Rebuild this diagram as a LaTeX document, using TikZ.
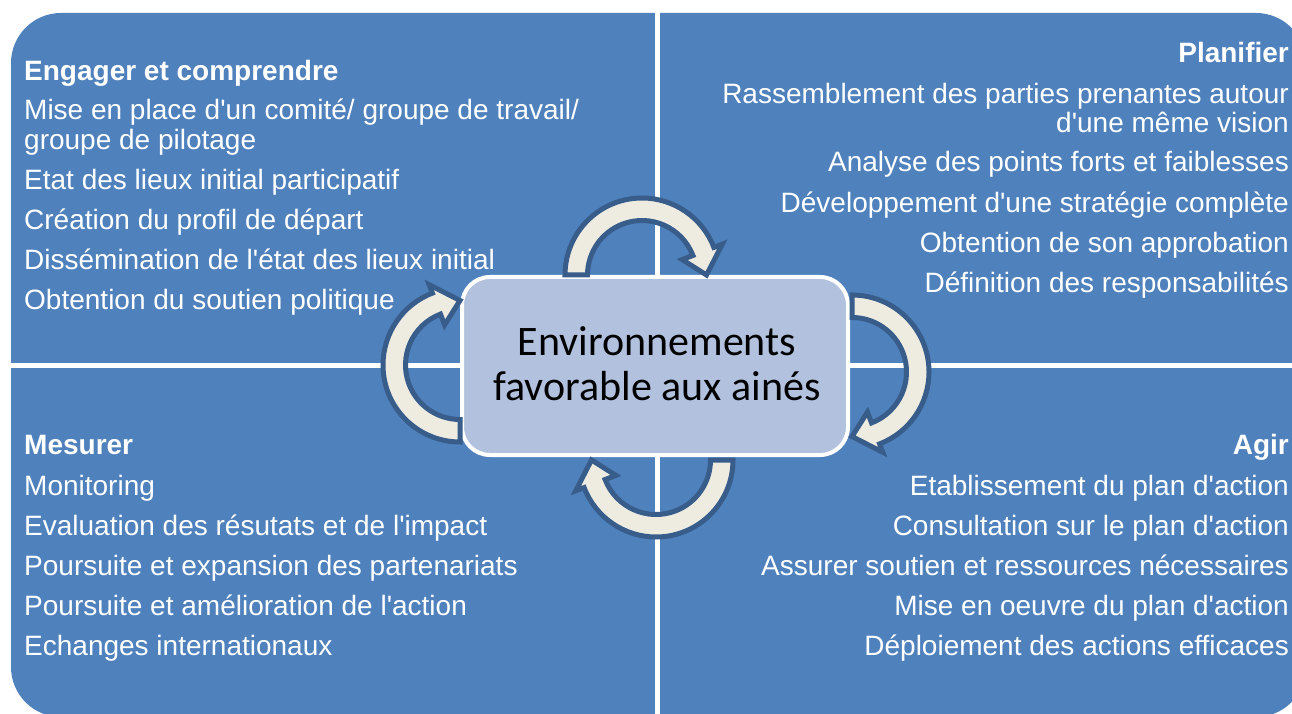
\documentclass[tikz,border=0pt]{standalone}
\usepackage{fontspec}
\setmainfont{Liberation Sans}[Ligatures=TeXOff]
\newfontfamily\calib{Carlito}
\usetikzlibrary{calc}
\definecolor{qblue}{RGB}{79,129,189}
\definecolor{boxblue}{RGB}{177,193,222}
\definecolor{acream}{RGB}{238,236,225}
\definecolor{aline}{RGB}{56,93,138}
\tikzset{
  qtext/.style={text=white, inner sep=0pt, font=\fontsize{28}{30}\selectfont},
  qhead/.style={text=white, inner sep=0pt, font=\bfseries\fontsize{28}{30}\selectfont},
  cyc/.style={fill=acream, draw=aline, line width=5pt, line join=miter},
  sep/.style={white, line width=5pt}
}
\newcommand\cycarrow[2]{%
  \draw[cyc] ($(#1)+(#2:77pt)$) arc[start angle=#2, end angle=#2-159, radius=77pt]
    -- ($(#1)+(#2-159:86pt)$) -- ($(#1)+(#2-180:64.5pt)$) -- ($(#1)+(#2-159:43pt)$)
    -- ($(#1)+(#2-159:54.5pt)$) arc[start angle=#2-159, end angle=#2, radius=54.5pt] -- cycle;}
\begin{document}
\begin{tikzpicture}[x=1pt,y=1pt]
\useasboundingbox (0,0) rectangle (1292,713);
\begin{scope}
  \clip (0,0) rectangle (1292,713);
  \fill[qblue, rounded corners=50pt] (11,-4) rectangle (1306,700);
  \coordinate (vtop) at (657,720);
  \coordinate (vbot) at (657,-10);
  \coordinate (hl) at (0,348);
  \coordinate (hr) at (1310,348);
  \draw[sep] (vbot) -- (vtop);
  \draw[sep] (hl) -- (hr);
\end{scope}

% top-left
\node[qhead, anchor=base west] (tl0) at (24,632) {Engager et comprendre};
\node[qtext, anchor=base west] (tl1) at (24,593) {Mise en place d'un comité/ groupe de travail/};
\node[qtext, anchor=base west] (tl1b) at (24,563) {groupe de pilotage};
\node[qtext, anchor=base west] (tl2) at (24,523) {Etat des lieux initial participatif};
\node[qtext, anchor=base west] (tl3) at (24,483) {Création du profil de départ};
\node[qtext, anchor=base west] (tl4) at (24,443) {Dissémination de l'état des lieux initial};
\node[qtext, anchor=base west] (tl5) at (24,403) {Obtention du soutien politique};

% top-right
\node[qhead, anchor=base east] (tr0) at (1289,650) {Planifier};
\node[qtext, anchor=base east] (tr1) at (1289,609) {Rassemblement des parties prenantes autour};
\node[qtext, anchor=base east] (tr1b) at (1289,580) {d'une même vision};
\node[qtext, anchor=base east] (tr2) at (1289,541) {Analyse des points forts et faiblesses};
\node[qtext, anchor=base east] (tr3) at (1289,500) {Développement d'une stratégie complète};
\node[qtext, anchor=base east] (tr4) at (1289,460) {Obtention de son approbation};
\node[qtext, anchor=base east] (tr5) at (1289,420) {Définition des responsabilités};

% bottom-left
\node[qhead, anchor=base west] (bl0) at (24,259) {Mesurer};
\node[qtext, anchor=base west] (bl1) at (24,218) {Monitoring};
\node[qtext, anchor=base west] (bl2) at (24,178) {Evaluation des résutats et de l'impact};
\node[qtext, anchor=base west] (bl3) at (24,138) {Poursuite et expansion des partenariats};
\node[qtext, anchor=base west] (bl4) at (24,98) {Poursuite et amélioration de l'action};
\node[qtext, anchor=base west] (bl5) at (24,58) {Echanges internationaux};

% bottom-right
\node[qhead, anchor=base east] (br0) at (1289,259) {Agir};
\node[qtext, anchor=base east] (br1) at (1289,218) {Etablissement du plan d'action};
\node[qtext, anchor=base east] (br2) at (1289,178) {Consultation sur le plan d'action};
\node[qtext, anchor=base east] (br3) at (1289,138) {Assurer soutien et ressources nécessaires};
\node[qtext, anchor=base east] (br4) at (1289,98) {Mise en oeuvre du plan d'action};
\node[qtext, anchor=base east] (br5) at (1289,58) {Déploiement des actions efficaces};

% central box
\node[draw=white, line width=4pt, fill=boxblue, rounded corners=28pt,
      minimum width=386pt, minimum height=178pt, inner sep=0pt] (center) at (655,347) {};
\node[inner sep=0pt, anchor=base, font=\calib\fontsize{42}{45}\selectfont] (ct1) at (657,358) {Environnements};
\node[inner sep=0pt, anchor=base, font=\calib\fontsize{42}{45}\selectfont] (ct2) at (657,313) {favorable aux ainés};

% cycle arrows
\coordinate (ctop) at (642,438);
\coordinate (cright) at (852,341);
\coordinate (cbot) at (656,253);
\coordinate (cleft) at (460,348);
\cycarrow{ctop}{180}
\cycarrow{cright}{90}
\cycarrow{cbot}{0}
\cycarrow{cleft}{-90}
\end{tikzpicture}
\end{document}
